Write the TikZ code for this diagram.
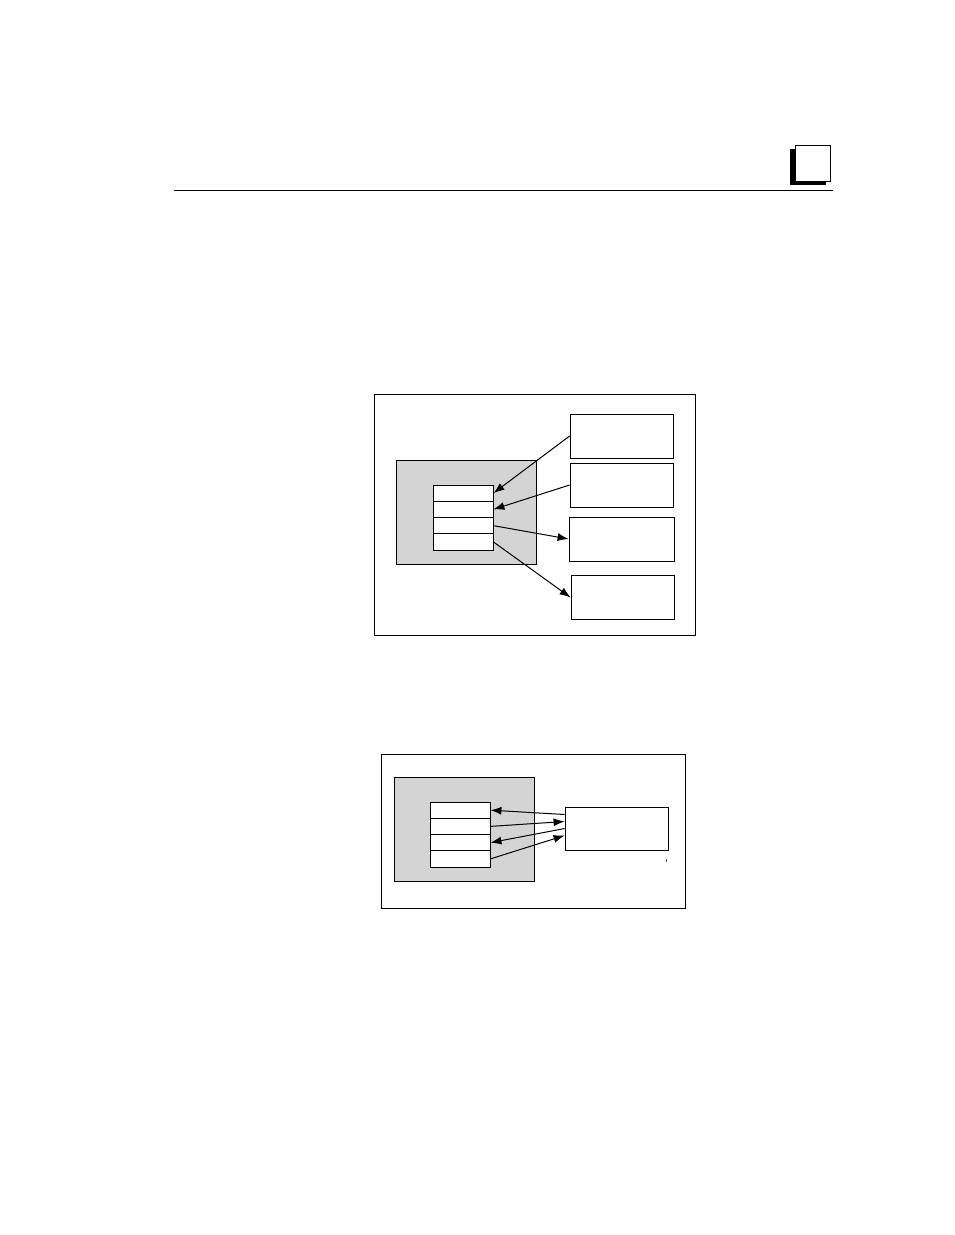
\documentclass[tikz,border=0pt]{standalone}
\usepackage{color}
\usepackage{tikz}
\usetikzlibrary{arrows.meta}
\definecolor{panelgray}{RGB}{212,212,212}
\begin{document}
\begin{tikzpicture}[x=1pt,y=-1pt,line width=0.8pt,
    every node/.style={draw,rectangle,inner sep=0pt,fill=white},
    link/.style={->,line width=1pt},
    >={Latex[length=11pt,width=8pt]}]
                \useasboundingbox (0,0) rectangle (954,1235);
                % page header
                \draw (174,190) -- (833,190);
                \fill (790,149) rectangle (826,185);
                \node[minimum width=35pt,minimum height=36pt] (tab) at (812.5,163) {};

                % upper figure
                \node[minimum width=321pt,minimum height=241pt] (frameA) at (534.5,514.5) {};
                \node[fill=panelgray,minimum width=140pt,minimum height=104pt] (panelA) at (466,512) {};
                \foreach \i in {1,2,3,4}{
                    \node[minimum width=60pt,minimum height=16.25pt] (A\i) at (463,476.9+16.25*\i) {};
                }
                \foreach \i/\x/\y/\w in {1/621.5/436/103,2/621.5/485/103,3/621.5/539/105,4/622.5/597.5/103}{
                    \node[minimum width=\w pt,minimum height=44pt] (B\i) at (\x,\y) {};
                }
                \draw[link] (B1.west) -- (A1.east);
                \draw[link] (B2.west) -- (A2.east);
                \draw[link] (A3.east) -- (B3.west);
                \draw[link] (A4.east) -- (B4.west);

                % lower figure
                \node[minimum width=304pt,minimum height=154pt] (frameB) at (533,831) {};
                \node[fill=panelgray,minimum width=140pt,minimum height=104pt] (panelB) at (464,829) {};
                \foreach \i in {1,2,3,4}{
                    \node[minimum width=60pt,minimum height=16.25pt] (C\i) at (460,793.9+16.25*\i) {};
                }
                \node[minimum width=103pt,minimum height=43pt] (R) at (616.5,828.5) {};
                \draw[link] ([yshift=14pt]R.west) -- (C1.east);
                \draw[link] (C2.east) -- ([yshift=7pt]R.west);
                \draw[link] (R.west) -- (C3.east);
                \draw[link] (C4.east) -- ([yshift=-7pt]R.west);
                \draw[line width=0.5pt] (666,862) -- (667,859);
            \end{tikzpicture}
\end{document}
